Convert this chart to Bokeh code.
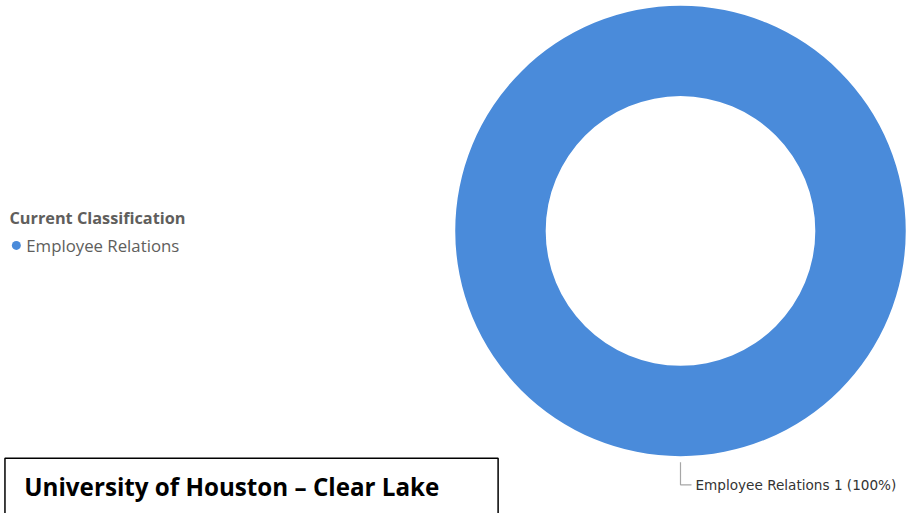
import math
from bokeh.plotting import figure
from bokeh.models import Range1d
from bokeh.core.properties import value
from bokeh.embed import file_html
from bokeh.resources import INLINE

# ---- data ----
legend_title = "Current Classification"
categories = ["Employee Relations"]
counts = [1]
colors = ["#4A8BDA"]
banner_text = "University of Houston \u2013 Clear Lake"

W, H = 906, 513
SX, SY = W / 914, H / 521
SR = (SX + SY) / 2


def X(px):
    return px * SX


def Y(py):
    return H - py * SY


p = figure(width=W, height=H, output_backend="svg", toolbar_location=None,
           x_range=Range1d(0, W), y_range=Range1d(0, H),
           min_border=0, outline_line_color=None)
p.axis.visible = False
p.grid.visible = False
p.background_fill_color = "white"
p.border_fill_color = "white"

# donut
cx, cy = X(686), Y(234)
r_out, r_in = 228 * SR, 136.5 * SR
total = sum(counts)
starts, ends, mids = [], [], []
a = math.pi / 2
for c in counts:
    frac = c / total
    s = a
    e = a - frac * 2 * math.pi
    starts.append(e)
    ends.append(s)
    mids.append((s + e) / 2)
    a = e

p.annular_wedge(x=[cx] * len(counts), y=[cy] * len(counts),
                inner_radius=r_in, outer_radius=r_out,
                inner_radius_units="screen", outer_radius_units="screen",
                start_angle=starts, end_angle=ends,
                fill_color=colors, line_color=None)

# data labels with leader lines
for cat, cnt, m in zip(categories, counts, mids):
    lx = cx + (r_out + 6) * math.cos(m)
    ly = cy + (r_out + 6) * math.sin(m)
    ey = ly - 23 * SY
    p.line(x=[lx, lx, lx + 11], y=[ly, ey, ey], line_color="#A6A6A6", line_width=1.2)
    pct = round(100 * cnt / total)
    p.text(x=[lx + 15], y=[ey], text=[f"{cat} {cnt} ({pct}%)"],
           text_font=value("DejaVu Sans"), text_font_size="13.6px",
           text_color="#333333", text_baseline="middle", text_align="left")

# legend
p.text(x=[X(9)], y=[Y(221)], text=[legend_title],
       text_font=value("Open Sans"), text_font_style="bold", text_font_size="16.3px",
       text_color="#605E5C", text_baseline="middle", text_align="left")
for i, (cat, col) in enumerate(zip(categories, colors)):
    yy = Y(248.7) - i * 24
    p.scatter(x=[X(16)], y=[yy], size=9, fill_color=col, line_color=None)
    p.text(x=[X(26)], y=[yy], text=[cat],
           text_font=value("Open Sans"), text_font_size="16.8px",
           text_color="#605E5C", text_baseline="middle", text_align="left")

# banner box
p.quad(left=[X(4.5)], right=[X(502)], top=[Y(465)], bottom=[Y(540)],
       fill_color="white", line_color="#000000", line_width=1.5)
p.text(x=[X(24)], y=[Y(493.5)], text=[banner_text],
       text_font=value("Open Sans"), text_font_style="bold", text_font_size="24.2px",
       text_color="#000000", text_baseline="middle", text_align="left")

open("out.html", "w").write(file_html(p, INLINE))
